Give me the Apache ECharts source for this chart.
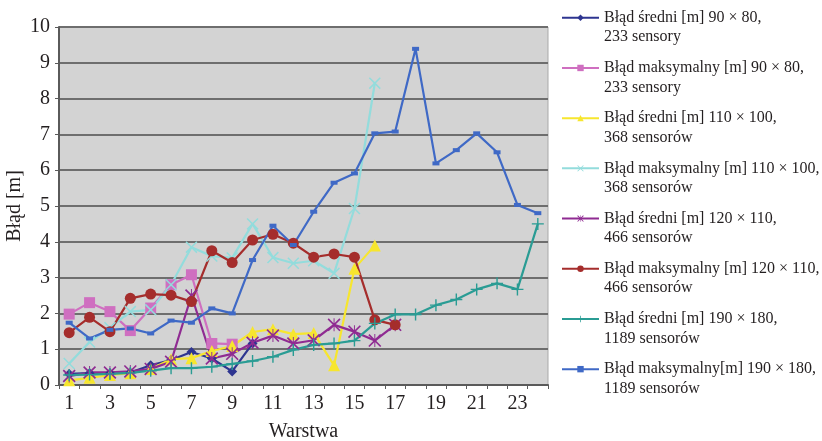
<!DOCTYPE html>
<html>
<head>
<meta charset="utf-8">
<script src="https://cdn.jsdelivr.net/npm/echarts@6/dist/echarts.min.js"></script>
<style>
  html, body { margin: 0; padding: 0; background: #fff; }
  #chart { width: 822px; height: 441px; }
</style>
</head>
<body>
<div id="chart"></div>
<script>
// Layer numbers (Warstwa)
const layers = ['1','2','3','4','5','6','7','8','9','10','11','12','13','14','15','16','17','18','19','20','21','22','23','24'];

// Mean and maximum localisation error [m] per layer, for each sensor grid
const mean90x80  = [0.31, 0.33, 0.33, 0.35, 0.55, 0.70, 0.92, 0.74, 0.38, 1.16];
const max90x80   = [1.98, 2.30, 2.05, 1.52, 2.15, 2.80, 3.08, 1.16, 1.14];
const mean110x100 = [0.13, 0.20, 0.28, 0.33, 0.45, 0.72, 0.75, 0.95, 1.09, 1.48, 1.56, 1.42, 1.45, 0.55, 3.25, 3.90];
const max110x100  = [0.60, 1.20, 1.60, 2.05, 2.10, 2.80, 3.85, 3.60, 3.55, 4.50, 3.56, 3.40, 3.47, 3.12, 4.93, 8.43];
const mean120x110 = [0.25, 0.35, 0.35, 0.38, 0.45, 0.65, 2.50, 0.74, 0.87, 1.18, 1.38, 1.16, 1.25, 1.68, 1.49, 1.24, 1.68];
const max120x110  = [1.46, 1.89, 1.49, 2.42, 2.54, 2.51, 2.33, 3.75, 3.42, 4.05, 4.21, 3.96, 3.57, 3.66, 3.57, 1.82, 1.68];
const mean190x180 = [0.28, 0.29, 0.31, 0.34, 0.40, 0.47, 0.47, 0.51, 0.59, 0.67, 0.79, 0.98, 1.12, 1.16, 1.24, 1.72, 1.97, 1.97, 2.23, 2.39, 2.67, 2.84, 2.67, 4.50];
const max190x180  = [1.74, 1.30, 1.54, 1.58, 1.44, 1.80, 1.74, 2.14, 2.00, 3.49, 4.45, 3.91, 4.84, 5.65, 5.91, 7.03, 7.08, 9.39, 6.19, 6.56, 7.03, 6.50, 5.03, 4.80];

const yTicks = { min: 0, max: 10, step: 1 };

const seriesNames = [
  'Błąd średni [m] 90 × 80,\n233 sensory',
  'Błąd maksymalny [m] 90 × 80,\n233 sensory',
  'Błąd średni [m] 110 × 100,\n368 sensorów',
  'Błąd maksymalny [m] 110 × 100,\n368 sensorów',
  'Błąd średni [m] 120 × 110,\n466 sensorów',
  'Błąd maksymalny [m] 120 × 110,\n466 sensorów',
  'Błąd średni [m] 190 × 180,\n1189 sensorów',
  'Błąd maksymalny[m] 190 × 180,\n1189 sensorów'
];
const seriesData = [mean90x80, max90x80, mean110x100, max110x100, mean120x110, max120x110, mean190x180, max190x180];

// Marker shapes
const crossX = 'path://M1,-1L21,19L19,21L-1,1Z M21,1L1,21L-1,19L19,-1Z';
const asterisk = 'path://M9.2,-1L10.8,-1L10.8,21L9.2,21Z M1,-1L21,19L19,21L-1,1Z M21,1L1,21L-1,19L19,-1Z';
const plus = 'path://M5.3,0H6.7V5.3H12V6.7H6.7V12H5.3V6.7H0V5.3H5.3Z';

const styles = [
  { color: '#2e3590', symbol: 'diamond', size: 10 },
  { color: '#cf6fc0', symbol: 'rect', size: 11 },
  { color: '#f7e62e', symbol: 'triangle', size: 12 },
  { color: '#93dcdc', symbol: crossX, size: 12 },
  { color: '#8f2b92', symbol: asterisk, size: 13 },
  { color: '#a52d2c', symbol: 'circle', size: 11 },
  { color: '#2a9c94', symbol: plus, size: 12 },
  { color: '#3f69c6', symbol: 'rect', size: [7, 4] }
];

const serif = '"Liberation Serif", "DejaVu Serif", serif';
const lineH = 19.5;

const series = seriesNames.map((name, i) => ({
  name: name,
  type: 'line',
  data: seriesData[i],
  symbol: styles[i].symbol,
  symbolSize: styles[i].size,
  showAllSymbol: true,
  lineStyle: { color: styles[i].color, width: 2.2 },
  itemStyle: { color: styles[i].color },
  animation: false
}));

// One legend block per series, stacked down the right-hand side;
// a leading blank line keeps the icon level with the first text line
const legends = seriesNames.map((name, i) => ({
  data: [name],
  orient: 'vertical',
  left: 561,
  top: -11.5 + i * 50.2,
  padding: 0,
  itemWidth: 37,
  itemHeight: 8,
  itemGap: 0,
  selectedMode: false,
  formatter: n => '\n' + n,
  textStyle: {
    fontFamily: serif,
    fontSize: 16,
    color: '#231f20',
    lineHeight: lineH
  }
}));

const chart = echarts.init(document.getElementById('chart'), null, { renderer: 'canvas' });
chart.setOption({
  animation: false,
  backgroundColor: '#ffffff',
  legend: legends,
  grid: {
    left: 59,
    right: 274,
    top: 27,
    bottom: 56,
    outerBoundsMode: 'none',
    containLabel: false,
    show: true,
    backgroundColor: '#d3d3d3',
    borderColor: '#a9a9a9',
    borderWidth: 1
  },
  xAxis: {
    type: 'category',
    data: layers,
    boundaryGap: true,
    name: 'Warstwa',
    nameLocation: 'middle',
    nameGap: 37,
    nameMoveOverlap: false,
    nameTextStyle: { fontFamily: serif, fontSize: 20, color: '#231f20' },
    axisLine: { lineStyle: { color: '#5a5a5a', width: 2 } },
    axisTick: { show: true, interval: 0, length: 4, lineStyle: { color: '#5a5a5a' } },
    axisLabel: { interval: 1, margin: 9, fontFamily: serif, fontSize: 20, color: '#231f20' },
    splitLine: { show: false }
  },
  yAxis: {
    type: 'value',
    min: yTicks.min,
    max: yTicks.max,
    interval: yTicks.step,
    name: 'Błąd [m]',
    nameLocation: 'middle',
    nameGap: 34,
    nameMoveOverlap: false,
    nameTextStyle: { fontFamily: serif, fontSize: 20, color: '#231f20' },
    axisLine: { show: true, lineStyle: { color: '#5a5a5a', width: 2 } },
    axisTick: { show: true, length: 4, lineStyle: { color: '#5a5a5a' } },
    axisLabel: { margin: 9, fontFamily: serif, fontSize: 20, color: '#231f20' },
    splitLine: { show: true, lineStyle: { color: '#6e6e6e', width: 2 } }
  },
  series: series
});
</script>
</body>
</html>
